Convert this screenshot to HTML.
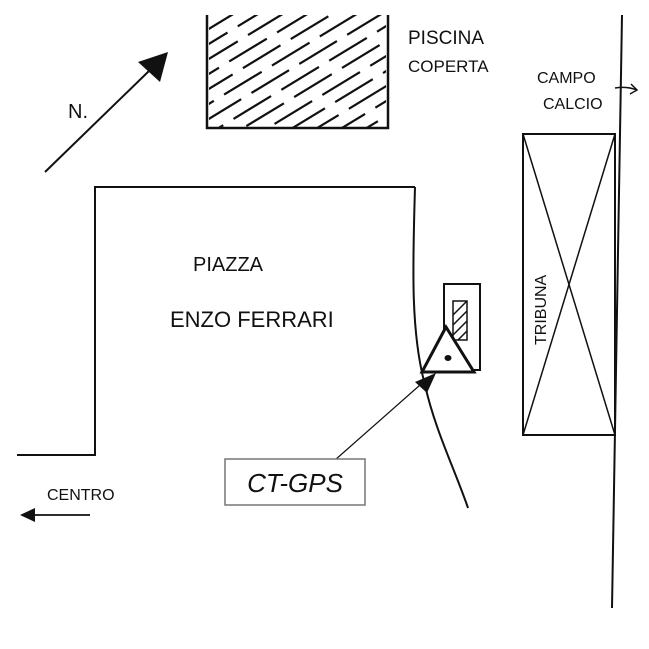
<!DOCTYPE html>
<html><head><style>html,body{margin:0;padding:0;background:#fff}svg{display:block}</style></head><body>
<svg width="649" height="649" viewBox="0 0 649 649" xmlns="http://www.w3.org/2000/svg" font-family="Liberation Sans, sans-serif">
<defs>
<clipPath id="c1"><rect x="209" y="15" width="177" height="112"/></clipPath>
<clipPath id="c2"><rect x="453" y="301" width="14" height="39"/></clipPath>
</defs>
<rect width="649" height="649" fill="#fff"/>
<g stroke="#111" fill="none" stroke-width="2.5">
<polyline points="207,15 207,128 388,128 388,15"/>
<g clip-path="url(#c1)" stroke-width="2.2" stroke-dasharray="44 12">
<line x1="207" y1="30" x2="388" y2="-80"/>
<line x1="207" y1="45" x2="388" y2="-65" stroke-dashoffset="20"/>
<line x1="207" y1="60" x2="388" y2="-50" stroke-dashoffset="8"/>
<line x1="207" y1="75" x2="388" y2="-35" stroke-dashoffset="30"/>
<line x1="207" y1="90" x2="388" y2="-20" stroke-dashoffset="14"/>
<line x1="207" y1="105" x2="388" y2="-5" stroke-dashoffset="36"/>
<line x1="207" y1="120" x2="388" y2="10" stroke-dashoffset="4"/>
<line x1="207" y1="135" x2="388" y2="25" stroke-dashoffset="25"/>
<line x1="207" y1="150" x2="388" y2="40" stroke-dashoffset="10"/>
<line x1="207" y1="165" x2="388" y2="55" stroke-dashoffset="33"/>
<line x1="207" y1="180" x2="388" y2="70" stroke-dashoffset="18"/>
<line x1="207" y1="195" x2="388" y2="85" stroke-dashoffset="2"/>
<line x1="207" y1="210" x2="388" y2="100" stroke-dashoffset="27"/>
<line x1="207" y1="225" x2="388" y2="115" stroke-dashoffset="12"/>
<line x1="207" y1="240" x2="388" y2="130" stroke-dashoffset="38"/>
</g>
<line x1="45" y1="172" x2="150" y2="70" stroke-width="2"/>
<line x1="622" y1="15" x2="612" y2="608" stroke-width="2"/>
<rect x="523" y="134" width="92" height="301" stroke-width="2"/>
<line x1="523" y1="134" x2="615" y2="435" stroke-width="1.5"/>
<line x1="615" y1="134" x2="523" y2="435" stroke-width="1.5"/>
<polyline points="17,455 95,455 95,187 415,187" stroke-width="2"/>
<path d="M415,187 C413,260 410,330 425,385 C435,430 455,470 468,508" stroke-width="2"/>
<rect x="444" y="284" width="36" height="86" stroke-width="2"/>
<rect x="453" y="301" width="14" height="39" stroke-width="1.5"/>
<path clip-path="url(#c2)" d="M453,315 l14,-14 M453,325 l14,-14 M453,335 l14,-14 M453,345 l14,-14 M453,355 l14,-14" stroke-width="1.5"/>
<polygon points="446,327 422,372 474,372" fill="#fff" stroke-width="3"/>
<line x1="335" y1="460" x2="420" y2="385" stroke-width="1.2"/>
<line x1="90" y1="515" x2="32" y2="515" stroke-width="1.8"/>
<path d="M615,88 Q627,86 637,90" stroke-width="1.5"/>
</g>
<ellipse cx="448" cy="358" rx="3.5" ry="3" fill="#111"/>
<polygon points="168,52 160,82 138,62" fill="#111"/>
<polygon points="436,373 427,393 415,382" fill="#111"/>
<polygon points="20,515 35,508 35,522" fill="#111"/>
<path d="M631,84 l6,6 l-7,4" stroke="#111" fill="none" stroke-width="1.5"/>
<g fill="#111" font-size="19">
<text x="408" y="44">PISCINA</text>
<text x="408" y="72" font-size="17">COPERTA</text>
<text x="537" y="83" font-size="16">CAMPO</text>
<text x="543" y="109" font-size="16">CALCIO</text>
<text x="68" y="118" font-size="20">N.</text>
<text x="193" y="271" font-size="20">PIAZZA</text>
<text x="170" y="327" font-size="22">ENZO FERRARI</text>
<text x="47" y="500" font-size="16">CENTRO</text>
<text transform="translate(546,345) rotate(-90)" font-size="16">TRIBUNA</text>
</g>
<rect x="225" y="459" width="140" height="46" fill="#fff" stroke="#777" stroke-width="1.5"/>
<text x="295" y="492" text-anchor="middle" font-size="26" font-style="italic" fill="#111">CT-GPS</text>
</svg>
</body></html>
